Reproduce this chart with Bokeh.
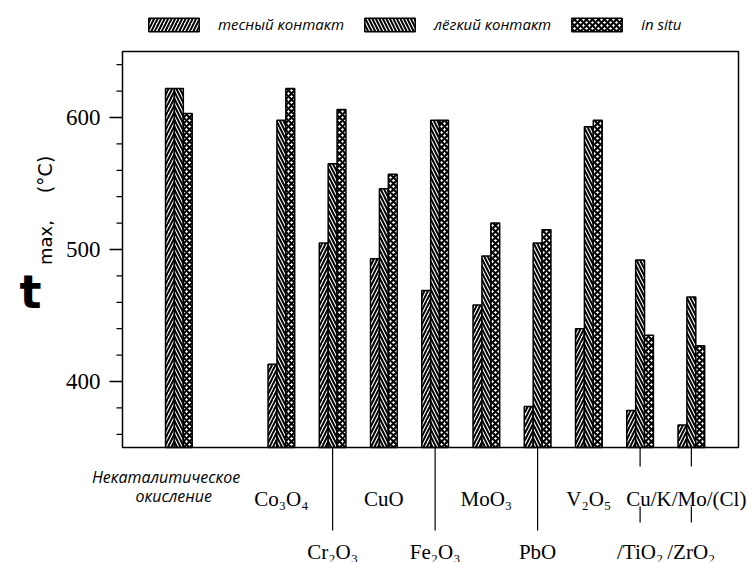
import math
from bokeh.plotting import figure
from bokeh.models import ColumnDataSource, Legend, LegendItem, Range1d
from bokeh.core.properties import value
from bokeh.embed import file_html
from bokeh.resources import INLINE

# ---- data -------------------------------------------------------------
positions = [0, 2, 3, 4, 5, 6, 7, 8, 9, 10]
tight = [622, 413, 505, 493, 469, 458, 381, 440, 378, 367]     # тесный контакт
loose = [622, 598, 565, 546, 598, 495, 505, 593, 492, 464]     # лёгкий контакт
insitu = [603, 622, 606, 557, 598, 520, 515, 598, 435, 427]    # in situ
series_names = ["тесный контакт", "лёгкий контакт", "in situ"]

cat_labels = ["", "Co₃O₄", "Cr₂O₃", "CuO", "Fe₂O₃", "MoO₃", "PbO", "V₂O₅", "/TiO₂", "/ZrO₂"]
cat_rows = [0, 1, 2, 1, 2, 1, 2, 1, 2, 2]
uncat_label = ["Некаталитическое", "окисление"]
shared_label = "Cu/K/Mo/(Cl)"
y_major_ticks = [400, 500, 600]
y_minor_ticks = [360, 380, 420, 440, 460, 480, 520, 540, 560, 580, 620, 640]

# ---- layout ------------------------------------------------------------
W, H = 752, 562
FL, FT, FW, FH = 122, 51, 616, 396          # plot box in pixels
x0, x1 = -1.1, 10.92                        # data limits of the plot box
y0, y1 = 350, 650
kx = FW / (x1 - x0)                         # px per x unit
ky = FH / (y1 - y0)                         # px per y unit
X0, X1 = x0 - FL / kx, x1 + (W - FL - FW) / kx
Y0, Y1 = y0 - (H - FT - FH) / ky, y1 + FT / ky

def sx(px):
    return X0 + px / kx

def sy(py):
    return Y1 - py / ky

p = figure(width=W, height=H, x_range=Range1d(X0, X1), y_range=Range1d(Y0, Y1),
           output_backend="svg", toolbar_location=None, min_border=0)
p.background_fill_color = "white"
p.border_fill_color = "white"
p.outline_line_color = None
p.xgrid.visible = False
p.ygrid.visible = False
p.axis.visible = False

# bars
bw = 0.1735
series = [tight, loose, insitu]
hatches = ["/", "\\", "x"]
offsets = [-bw, 0, bw]
renderers = []
for vals, hp, off in zip(series, hatches, offsets):
    src = ColumnDataSource(dict(x=[q + off for q in positions], top=vals))
    r = p.vbar(x="x", top="top", bottom=y0, width=bw, source=src,
               fill_color="white", line_color="black", line_width=1.5,
               hatch_pattern=hp, hatch_color="black",
               hatch_scale=7 if hp != "x" else 6,
               hatch_weight=2.0 if hp != "x" else 2.1)
    renderers.append(r)

# plot box and y axis
p.quad(left=x0, right=x1, bottom=y0, top=y1, fill_alpha=0, line_color="black", line_width=1.5)
p.segment(x0=[x0 - 13 / kx] * len(y_major_ticks), x1=[x0] * len(y_major_ticks),
          y0=y_major_ticks, y1=y_major_ticks, line_color="black", line_width=1.5)
p.segment(x0=[x0 - 6 / kx] * len(y_minor_ticks), x1=[x0] * len(y_minor_ticks),
          y0=y_minor_ticks, y1=y_minor_ticks, line_color="black", line_width=1.3)
p.text(x=[x0 - 22 / kx] * len(y_major_ticks), y=y_major_ticks, text=[str(t) for t in y_major_ticks],
       text_align="right", text_baseline="middle", text_font=value("Liberation Serif"),
       text_font_size="23px", text_color="black")

# legend above the plot box
legend = Legend(items=[LegendItem(label=n, renderers=[r]) for n, r in zip(series_names, renderers)],
                orientation="horizontal", location=(142, H - 34))
legend.glyph_width = 63
legend.glyph_height = 17
legend.label_height = 17
legend.label_standoff = 13
legend.spacing = 14
legend.padding = 0
legend.margin = 0
legend.border_line_alpha = 0
legend.background_fill_alpha = 0
legend.label_text_font = "Open Sans"
legend.label_text_font_style = "italic"
legend.label_text_font_size = "15px"
legend.label_text_color = "black"
p.add_layout(legend)

# category labels
row_base = {1: sy(498), 2: sy(551)}
lx, ly, lt = [], [], []
for pos, lab, row in zip(positions, cat_labels, cat_rows):
    if row == 0:
        continue
    lx.append(pos); ly.append(row_base[row]); lt.append(lab)
p.text(x=lx, y=ly, text=lt, text_align="center", text_baseline="alphabetic",
       text_font=value("Liberation Serif"), text_font_size="21px", text_color="black")
p.text(x=[positions[8] - 0.27], y=[row_base[1]], text=[shared_label], text_align="left",
       text_baseline="alphabetic", text_font=value("Liberation Serif"),
       text_font_size="21px", text_color="black")
p.text(x=[positions[0] - 0.25, positions[0] - 0.1], y=[sy(476), sy(495)], text=uncat_label,
       text_align="center", text_baseline="alphabetic", text_font=value("Open Sans"),
       text_font_style="italic", text_font_size="16px", text_color="black")

# leader lines
sx0, sy0, sy1 = [], [], []
for pos, row in zip(positions, cat_rows):
    if row != 2:
        continue
    if pos in (positions[8], positions[9]):
        sx0 += [pos, pos]
        sy0 += [y0, sy(506)]
        sy1 += [sy(466), sy(522)]
    else:
        sx0.append(pos); sy0.append(y0); sy1.append(sy(530))
p.segment(x0=sx0, x1=sx0, y0=sy0, y1=sy1, line_color="black", line_width=1.2)

# y-axis title
p.text(x=[sx(30)], y=[sy(291)], text=["t"], text_align="center",
       text_baseline="alphabetic", text_font=value("DejaVu Sans"), text_font_style="bold",
       text_font_size="46px", text_color="black")
p.text(x=[sx(45)], y=[sy(242)], text=["max,"], angle=math.pi / 2, text_align="center",
       text_baseline="alphabetic", text_font=value("DejaVu Sans"),
       text_font_size="18px", text_color="black")
p.text(x=[sx(44)], y=[sy(174)], text=["(°C)"], angle=math.pi / 2, text_align="center",
       text_baseline="alphabetic", text_font=value("DejaVu Sans"),
       text_font_size="19px", text_color="black")

open("out.html", "w").write(file_html(p, INLINE))
